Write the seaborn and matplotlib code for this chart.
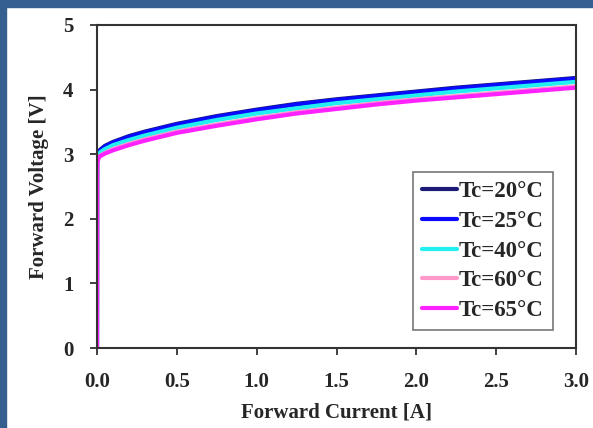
import numpy as np
import pandas as pd
import matplotlib
matplotlib.use("Agg")
import matplotlib.pyplot as plt
import seaborn as sns
from matplotlib.patches import Rectangle

current = [0.0, 0.001, 0.003, 0.01, 0.02, 0.05, 0.1, 0.2, 0.3, 0.5, 0.75, 1.0,
           1.25, 1.5, 1.75, 2.0, 2.25, 2.5, 2.75, 3.0]
v20 = [0.0, 2.85, 2.97, 3.03, 3.07, 3.13, 3.19, 3.28, 3.35, 3.47, 3.59, 3.69,
       3.78, 3.85, 3.91, 3.97, 4.03, 4.08, 4.13, 4.18]
v25 = [0.0, 2.84, 2.96, 3.02, 3.06, 3.12, 3.18, 3.27, 3.34, 3.46, 3.58, 3.68,
       3.77, 3.84, 3.90, 3.96, 4.02, 4.07, 4.12, 4.17]
v40 = [0.0, 2.81, 2.93, 2.99, 3.03, 3.08, 3.14, 3.22, 3.29, 3.41, 3.53, 3.63,
       3.71, 3.79, 3.85, 3.91, 3.97, 4.02, 4.07, 4.12]
v60 = [0.0, 2.78, 2.89, 2.95, 2.98, 3.02, 3.08, 3.16, 3.23, 3.35, 3.46, 3.56,
       3.65, 3.72, 3.79, 3.85, 3.90, 3.95, 4.00, 4.05]
v65 = [0.0, 2.77, 2.88, 2.94, 2.97, 3.01, 3.06, 3.14, 3.21, 3.33, 3.44, 3.54,
       3.63, 3.70, 3.77, 3.83, 3.88, 3.93, 3.98, 4.03]
labels = ["Tc=20°C", "Tc=25°C", "Tc=40°C", "Tc=60°C", "Tc=65°C"]
colors = ["#1c1c78", "#0a0aff", "#22f0f0", "#ff99cc", "#ff22ff"]
series = [v20, v25, v40, v60, v65]

frames = []
for lab, vals in zip(labels, series):
    frames.append(pd.DataFrame({"I": current, "V": vals, "T": lab}))
df = pd.concat(frames, ignore_index=True)

sns.set_theme(style="white")
plt.rcParams["font.family"] = ["Liberation Serif", "DejaVu Serif"]
plt.rcParams["font.weight"] = "bold"

fig = plt.figure(figsize=(5.93, 4.28), dpi=100)
ax = fig.add_axes([97/593, 1-348/428, (576-97)/593, (348-25)/428])

sns.lineplot(data=df, x="I", y="V", hue="T", palette=dict(zip(labels, colors)),
             hue_order=labels, linewidth=3.0, ax=ax, sort=False, estimator=None)

ax.set_xlim(0, 3.0)
ax.set_ylim(0, 5)
ax.set_xticks([0, 0.5, 1.0, 1.5, 2.0, 2.5, 3.0])
ax.set_xticklabels(["0.0", "0.5", "1.0", "1.5", "2.0", "2.5", "3.0"])
ax.set_yticks([0, 1, 2, 3, 4, 5])
ax.tick_params(axis="both", direction="out", length=5, width=1.3, color="#333333",
               labelsize=15, bottom=True, left=True)
ax.tick_params(axis="x", pad=12)
ax.tick_params(axis="y", pad=12)
for lbl in ax.get_xticklabels() + ax.get_yticklabels():
    lbl.set_fontweight("bold")
for s in ax.spines.values():
    s.set_color("#333333")
    s.set_linewidth(1.5)
ax.set_xlabel("Forward Current [A]", fontsize=15, fontweight="bold", labelpad=8)
ax.set_ylabel("Forward Voltage [V]", fontsize=15, fontweight="bold", labelpad=10)

leg = ax.legend(loc="upper right", bbox_to_anchor=((553-97)/(576-97), (348-172)/(348-25)),
                frameon=True, fancybox=False, handlelength=1.5, handletextpad=0.1,
                borderpad=0.4, labelspacing=0.38, prop={"size": 16.5, "weight": "bold"},
                borderaxespad=0)
leg.get_frame().set_edgecolor("#555555")
leg.get_frame().set_linewidth(1.2)
for line in leg.get_lines():
    line.set_linewidth(3.0)

fig.patches.append(Rectangle((0, 1-7/428), 1, 7/428, transform=fig.transFigure,
                             color="#355f8f", zorder=10))
fig.patches.append(Rectangle((0, 0), 6/593, 1, transform=fig.transFigure,
                             color="#355f8f", zorder=10))

fig.savefig("out.png", dpi=100)
